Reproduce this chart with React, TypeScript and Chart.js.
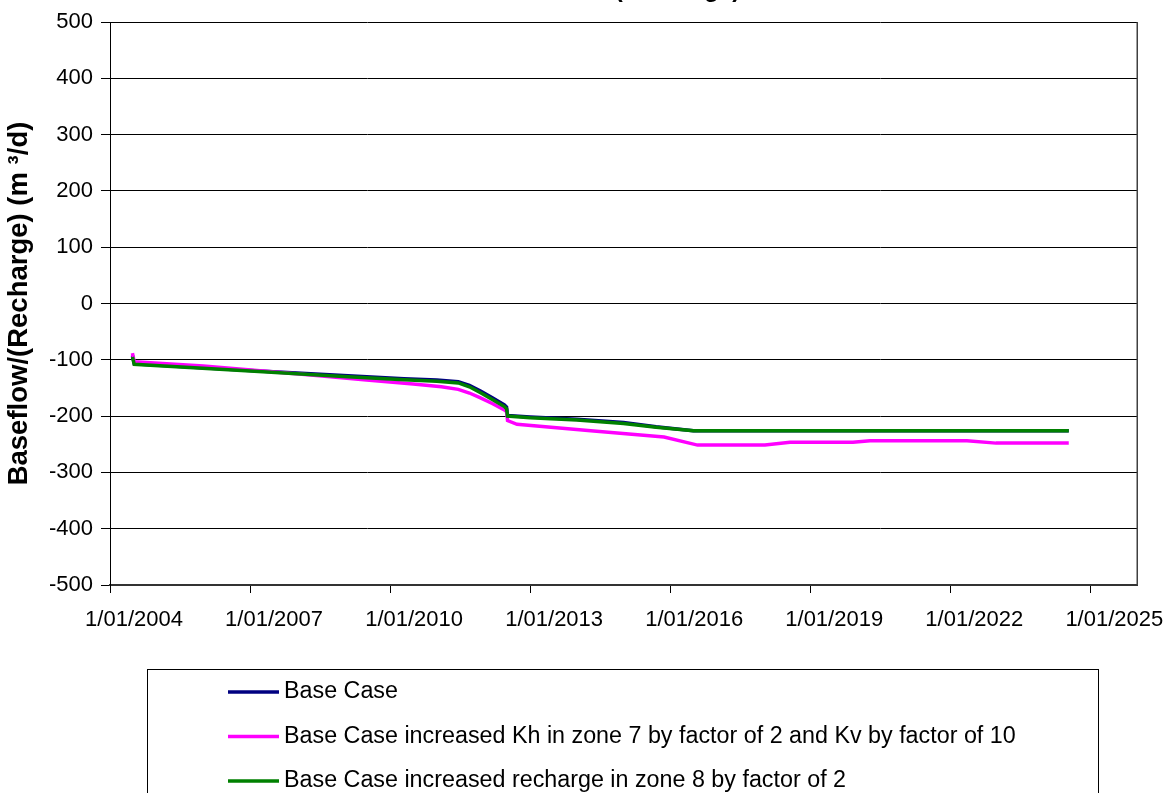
import React, { useEffect, useRef } from "react";
import { Chart, registerables } from "chart.js";

Chart.register(...registerables);

// ---- Data ----
const seriesLabels = [
  "Base Case",
  "Base Case increased Kh in zone 7 by factor of 2 and Kv by factor of 10",
  "Base Case increased recharge in zone 8 by factor of 2",
];
const seriesColors = ["#000080", "#FF00FF", "#008000"];

const baseDates = [
  "2004-06-25", "2004-07-09", "2007-01-01", "2009-01-01", "2010-04-20", "2011-01-01",
  "2011-06-18", "2011-09-13", "2011-12-13", "2012-03-14", "2012-06-13", "2012-06-30",
  "2012-07-08", "2013-01-01", "2014-01-01", "2015-01-01", "2015-09-13", "2016-07-01",
  "2024-07-16",
];
const baseValues = [
  -92, -107, -119, -128, -133.5, -136, -139, -145.5, -156, -168, -180, -184,
  -199, -201.5, -205.5, -211.5, -219, -226, -226,
];

const khDates = [
  "2004-06-25", "2004-07-09", "2006-01-01", "2008-04-20", "2009-07-01", "2010-07-01",
  "2011-02-06", "2011-06-18", "2011-09-13", "2011-12-13", "2012-03-14", "2012-06-13",
  "2012-06-30", "2012-07-08", "2012-09-20", "2014-04-20", "2015-11-14", "2016-08-03",
  "2018-01-12", "2018-07-27", "2019-12-01", "2020-04-13", "2022-05-12", "2022-12-24",
  "2024-07-16",
];
const khValues = [
  -88, -103.5, -111, -127, -136, -143, -148, -152.5, -159, -168, -178, -189,
  -192, -208, -214.5, -226, -237, -251.5, -251.5, -246.5, -246.5, -244, -244, -248,
  -248,
];

const rechargeDates = [
  "2004-06-25", "2004-07-09", "2007-01-01", "2009-01-01", "2010-04-20", "2011-01-01",
  "2011-06-18", "2011-09-13", "2011-12-13", "2012-03-14", "2012-06-13", "2012-06-30",
  "2012-07-08", "2013-01-01", "2014-01-01", "2015-01-01", "2015-09-13", "2016-07-01",
  "2024-07-16",
];
const rechargeValues = [
  -95, -108, -120, -129.5, -135.5, -138, -141, -148, -159, -171, -183, -187,
  -200, -203, -207, -213, -220, -226, -226,
];

const xTickYears = [2004, 2007, 2010, 2013, 2016, 2019, 2022, 2025];
const xMin = 2004;
const xMax = 2026;
const yMin = -500;
const yMax = 500;
const yStep = 100;
const chartTitle = "Baseflow/(Recharge)";
const yAxisTitle = "Baseflow/(Recharge) (m \u00B3/d)";

function toYear(s: string): number {
  const [y, m, d] = s.split("-").map(Number);
  const start = Date.UTC(y, 0, 1);
  const end = Date.UTC(y + 1, 0, 1);
  return y + (Date.UTC(y, m - 1, d) - start) / (end - start);
}

function toPoints(dates: string[], values: number[]) {
  return dates.map((d, i) => ({ x: toYear(d), y: values[i] }));
}

const FONT = '"Liberation Sans", Arial, sans-serif';

const decorPlugin = {
  id: "decor",
  afterDraw(chart: any) {
    const ctx = chart.ctx;
    const a = chart.chartArea;
    ctx.save();
    // right border of plot area
    ctx.strokeStyle = "#404040";
    ctx.lineWidth = 1.5;
    ctx.beginPath();
    ctx.moveTo(a.right + 0.25, a.top);
    ctx.lineTo(a.right + 0.25, a.bottom);
    ctx.stroke();

    // cut-off chart title (only descenders visible)
    ctx.fillStyle = "#000";
    ctx.font = `bold 24px ${FONT}`;
    ctx.textAlign = "center";
    ctx.textBaseline = "alphabetic";
    ctx.fillText(chartTitle, (a.left + a.right) / 2 - 2, -3.5);

    // legend box
    const boxLeft = 147.5;
    const boxTop = 669.5;
    const boxRight = 1098.5;
    ctx.strokeStyle = "#000";
    ctx.lineWidth = 1;
    ctx.strokeRect(boxLeft, boxTop, boxRight - boxLeft, 300);

    ctx.font = `23.3px ${FONT}`;
    ctx.textAlign = "left";
    ctx.textBaseline = "middle";
    chart.data.datasets.forEach((ds: any) => {
      const idx = ds.legendIndex;
      const y = 692 + idx * 44.5;
      ctx.strokeStyle = ds.borderColor;
      ctx.lineWidth = 3.5;
      ctx.beginPath();
      ctx.moveTo(228, y);
      ctx.lineTo(279, y);
      ctx.stroke();
      ctx.fillStyle = "#000";
      ctx.fillText(ds.label, 284, y);
    });
    ctx.restore();
  },
};

export default function App() {
  const canvasRef = useRef<HTMLCanvasElement | null>(null);

  useEffect(() => {
    const canvas = canvasRef.current;
    if (!canvas) return;
    const seriesData = [
      toPoints(baseDates, baseValues),
      toPoints(khDates, khValues),
      toPoints(rechargeDates, rechargeValues),
    ];
    const orders = [2, 1, 0];
    const chart = new Chart(canvas, {
      type: "line",
      data: {
        datasets: seriesData.map((data, i) => ({
          label: seriesLabels[i],
          data,
          borderColor: seriesColors[i],
          backgroundColor: seriesColors[i],
          borderWidth: 3.5,
          pointRadius: 0,
          tension: 0,
          fill: false,
          order: orders[i],
          legendIndex: i,
        })) as any,
      },
      options: {
        animation: false,
        responsive: false,
        devicePixelRatio: 1,
        layout: { padding: { left: 0, top: 22, right: 38, bottom: 0 } },
        plugins: {
          legend: { display: false },
          title: { display: false },
          tooltip: { enabled: false },
        },
        scales: {
          x: {
            type: "linear",
            min: xMin,
            max: xMax,
            afterFit: (s: any) => {
              s.height = 208;
            },
            afterBuildTicks: (s: any) => {
              s.ticks = xTickYears.map((v) => ({ value: v }));
            },
            ticks: {
              callback: (v: any) => "1/01/" + v,
              color: "#000",
              font: { family: FONT, size: 22 },
              labelOffset: 24,
              padding: 14,
              maxRotation: 0,
              autoSkip: false,
            },
            grid: {
              drawOnChartArea: false,
              drawTicks: true,
              tickLength: 8,
              color: "#000",
            },
            border: { color: "#333", width: 2 },
          },
          y: {
            type: "linear",
            min: yMin,
            max: yMax,
            afterFit: (s: any) => {
              s.width = 110;
            },
            ticks: {
              stepSize: yStep,
              color: "#000",
              font: { family: FONT, size: 22 },
              padding: 8,
            },
            grid: {
              color: "#000",
              lineWidth: 1,
              tickLength: 9,
            },
            border: { color: "#000", width: 1 },
            title: {
              display: true,
              text: yAxisTitle,
              color: "#000",
              font: { family: FONT, size: 27.5, weight: "bold" },
              padding: { top: 3, bottom: 0 },
            },
          },
        },
      } as any,
      plugins: [decorPlugin],
    });
    return () => chart.destroy();
  }, []);

  return (
    <div style={{ position: "absolute", left: 0, top: 0, width: 1175, height: 793, background: "#fff" }}>
      <canvas ref={canvasRef} width={1175} height={793} style={{ display: "block" }} />
    </div>
  );
}
